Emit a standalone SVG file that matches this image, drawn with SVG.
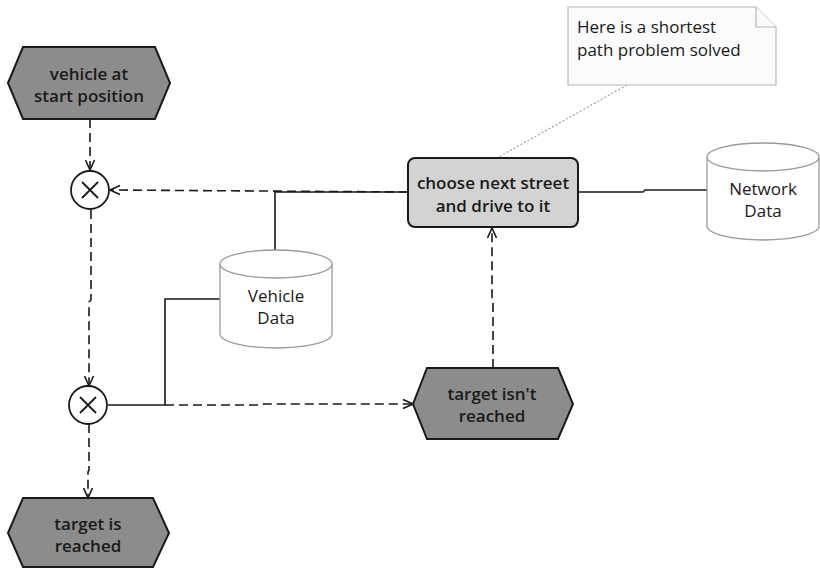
<svg xmlns="http://www.w3.org/2000/svg" width="820" height="568" viewBox="0 0 820 568">
<style>
.evt{fill:#8c8c8c;stroke:#1a1a1a;stroke-width:2}
.fn{fill:#d3d3d3;stroke:#1a1a1a;stroke-width:2}
.xor{fill:#fff;stroke:#1a1a1a;stroke-width:1.8}
.x{stroke:#1a1a1a;stroke-width:1.8}
.db{fill:#fff;stroke:#9a9a9a;stroke-width:1.3}
.note{fill:#fbfbfb;stroke:#b8b8b8;stroke-width:1.2}
.t{font-family:"Open Sans","Noto Sans",sans-serif;font-size:17px;fill:#1a1a1a;text-anchor:middle}
.b{font-weight:600}
.nt{font-family:"Open Sans","Noto Sans",sans-serif;font-size:17px;fill:#1a1a1a}
.flow{fill:none;stroke:#1a1a1a;stroke-width:1.6;stroke-dasharray:9 5}
.solid{fill:none;stroke:#1a1a1a;stroke-width:1.6}
.dot{fill:none;stroke:#a0a0a0;stroke-width:1.2;stroke-dasharray:2 2}
</style>
<defs>
<marker id="arr" viewBox="0 0 12 12" refX="11" refY="6" markerWidth="12" markerHeight="12" markerUnits="userSpaceOnUse" orient="auto">
<path d="M1,1.5 L11,6 L1,10.5" fill="none" stroke="#1a1a1a" stroke-width="1.6"/>
</marker>
</defs>
<g id="connectors">
<path class="dot" d="M627,85 L497,158"/>
<path class="flow" d="M90,119 L90,170" marker-end="url(#arr)"/>
<path class="solid" d="M408,192 L275,192 L275,250"/>
<path class="flow" d="M408,192 L110,190" marker-end="url(#arr)"/>
<path class="solid" d="M577,192 L643,192 L645,190 L707,190"/>
<path class="flow" d="M91,210 L91,300 L89,302 L89,386" marker-end="url(#arr)"/>
<path class="solid" d="M108,405 L165,405 L165,299 L220,299"/>
<path class="flow" d="M165,405 L262,405 L264,404 L413,404" marker-end="url(#arr)"/>
<path class="flow" d="M89,424 L89,470 L88,472 L88,498" marker-end="url(#arr)"/>
<path class="flow" d="M493,368 L493,300 L492,298 L492,228" marker-end="url(#arr)"/>
</g>
<g id="note">
<path class="note" d="M568,7 L756,7 L776,27 L776,85 L568,85 Z"/>
<path class="note" d="M756,7 L756,27 L776,27" fill="none"/>
<text class="nt" x="577" y="33">Here is a shortest</text>
<text class="nt" x="577" y="56">path problem solved</text>
</g>
<g id="start">
<polygon class="evt" points="8,83 23,47 155,47 170,83 155,119 23,119"/>
<text class="t b" x="89" y="80">vehicle at</text>
<text class="t b" x="89" y="102">start position</text>
</g>
<g id="xor1">
<circle class="xor" cx="90" cy="190" r="19"/>
<path class="x" d="M82,182 L98,198 M98,182 L82,198"/>
</g>
<g id="function">
<rect class="fn" x="408" y="158" width="170" height="69" rx="7"/>
<text class="t b" x="493" y="189">choose next street</text>
<text class="t b" x="493" y="212">and drive to it</text>
</g>
<g id="network-data">
<path class="db" d="M707,157 A56,14 0 0 1 819,157 L819,226 A56,14 0 0 1 707,226 Z"/>
<path class="db" d="M707,157 A56,14 0 0 0 819,157" fill="none"/>
<text class="t" x="763" y="195">Network</text>
<text class="t" x="763" y="217">Data</text>
</g>
<g id="vehicle-data">
<path class="db" d="M220,264 A56,14 0 0 1 332,264 L332,334 A56,14 0 0 1 220,334 Z"/>
<path class="db" d="M220,264 A56,14 0 0 0 332,264" fill="none"/>
<text class="t" x="276" y="302">Vehicle</text>
<text class="t" x="276" y="324">Data</text>
</g>
<g id="xor2">
<circle class="xor" cx="88" cy="405" r="19"/>
<path class="x" d="M80,397 L96,413 M96,397 L80,413"/>
</g>
<g id="target-not">
<polygon class="evt" points="413,404 427,368 558,368 573,404 558,439 427,439"/>
<text class="t b" x="492" y="400">target isn't</text>
<text class="t b" x="492" y="422">reached</text>
</g>
<g id="target-reached">
<polygon class="evt" points="8,533 23,498 153,498 169,533 153,567 23,567"/>
<text class="t b" x="88" y="530">target is</text>
<text class="t b" x="88" y="552">reached</text>
</g>
</svg>
